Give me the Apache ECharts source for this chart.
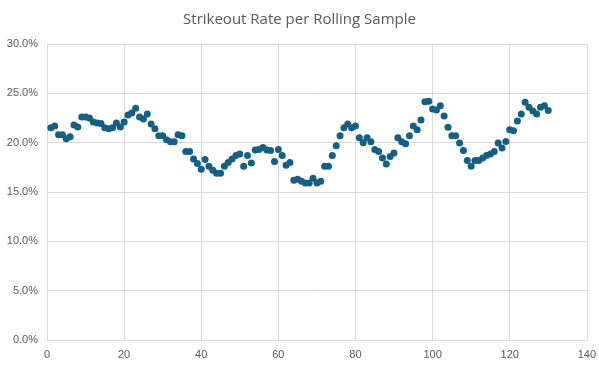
<!DOCTYPE html>
<html>
<head>
<meta charset="utf-8">
<script src="https://cdn.jsdelivr.net/npm/echarts@6/dist/echarts.min.js"></script>
<style>
html,body{margin:0;padding:0;background:#fff;}
#chart{width:599px;height:382px;}
</style>
</head>
<body>
<div id="chart"></div>
<script>
const title = "Strikeout Rate per Rolling Sample";
const xTicks = { min: 0, max: 140, interval: 20 };
const yTicks = { min: 0, max: 30, interval: 5 };
const rates = [
  21.5, 21.7, 20.8, 20.8, 20.4, 20.6, 21.8, 21.6, 22.6, 22.6, 22.5, 22.1, 22.0, 21.95, 21.5, 21.4, 21.5, 22.0, 21.6, 22.1, 22.8, 23.0, 23.5, 22.6, 22.4,
  22.9, 21.9, 21.4, 20.7, 20.7, 20.3, 20.1, 20.1, 20.8, 20.7, 19.1, 19.1, 18.35, 17.9, 17.3, 18.3, 17.6, 17.2, 16.9, 16.9, 17.6, 18.0, 18.35, 18.7, 18.85,
  17.6, 18.7, 17.95, 19.26, 19.3, 19.5, 19.26, 19.2, 18.1, 19.3, 18.7, 17.7, 18.0, 16.2, 16.3, 16.1, 15.9, 15.9, 16.4, 15.9, 16.1, 17.6, 17.6, 18.7, 19.7,
  20.7, 21.5, 21.9, 21.5, 21.7, 20.5, 20.0, 20.5, 20.1, 19.3, 19.1, 18.45, 17.85, 18.6, 18.95, 20.5, 20.1, 19.9, 20.7, 21.7, 21.3, 22.3,
  24.15, 24.2, 23.4, 23.3, 23.75, 22.7, 21.55, 20.7, 20.7, 19.97, 19.2, 18.2, 17.6, 18.2, 18.2, 18.45, 18.7, 18.85, 19.1, 19.97, 19.46, 20.13, 21.3, 21.2, 22.2, 22.9, 24.1,
  23.6, 23.2, 22.9, 23.6, 23.75, 23.25
];
const samples = rates.map((_, i) => i + 1);

const points = samples.map((s, i) => [s, rates[i]]);
const chart = echarts.init(document.getElementById('chart'), null, { renderer: 'canvas' });
const labelFont = '"Liberation Sans", Arial, sans-serif';
chart.setOption({
  animation: false,
  backgroundColor: '#ffffff',
  title: {
    text: title,
    left: 'center',
    top: 7,
    textStyle: { fontFamily: '"Open Sans", "Noto Sans", sans-serif', fontSize: 15, fontWeight: 'normal', color: '#595959' }
  },
  grid: { left: 47, right: 11, top: 44, bottom: 42, containLabel: false },
  xAxis: {
    type: 'value', min: xTicks.min, max: xTicks.max, interval: xTicks.interval,
    axisLine: { show: true, lineStyle: { color: '#d9d9d9', width: 1 } },
    axisTick: { show: false },
    splitLine: { show: true, lineStyle: { color: '#d9d9d9', width: 1 } },
    axisLabel: { color: '#595959', fontSize: 11, fontFamily: labelFont, margin: 9 }
  },
  yAxis: {
    type: 'value', min: yTicks.min, max: yTicks.max, interval: yTicks.interval,
    axisLine: { show: false },
    axisTick: { show: false },
    splitLine: { show: true, lineStyle: { color: '#d9d9d9', width: 1 } },
    axisLabel: { color: '#595959', fontSize: 11, fontFamily: labelFont, margin: 9,
      formatter: v => v.toFixed(1) + '%' }
  },
  series: [{
    type: 'scatter',
    data: points,
    symbol: 'circle',
    symbolSize: 7,
    itemStyle: { color: '#156082', opacity: 1 }
  }]
});
</script>
</body>
</html>
